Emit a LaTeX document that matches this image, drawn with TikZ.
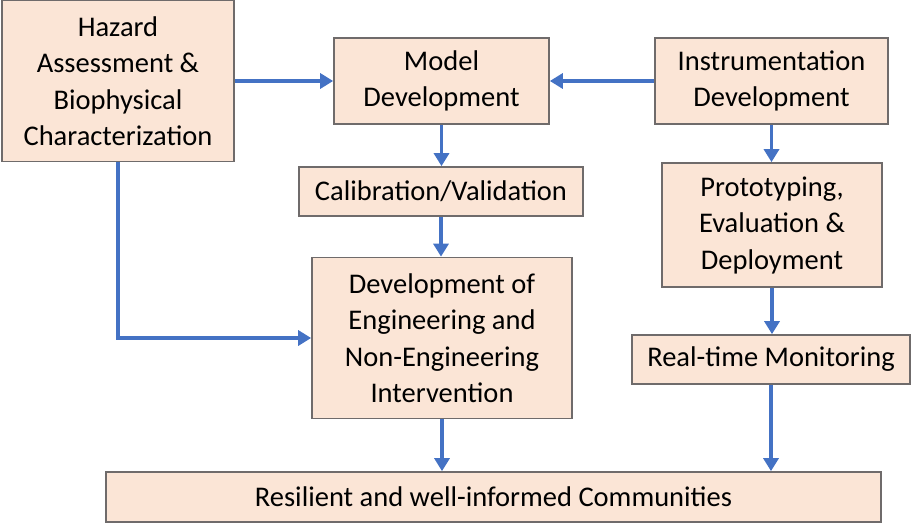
\documentclass[tikz,border=0pt]{standalone}
\usepackage{fontspec}
\setmainfont{Carlito}
\usetikzlibrary{arrows.meta}
\definecolor{boxfill}{HTML}{FBE5D6}
\definecolor{boxline}{HTML}{6F6B6B}
\definecolor{arrowblue}{HTML}{4472C4}
\tikzset{
  pbox/.style={draw=boxline, line width=1.7pt, fill=boxfill, inner sep=0pt,
    align=center, font=\fontsize{28.5}{36.5}\selectfont, text=black},
  flow/.style={draw=arrowblue, line width=3.6pt,
    -{Triangle[length=13pt,width=15pt]}}
}
\begin{document}
\begin{tikzpicture}[x=1pt,y=-1pt]
\useasboundingbox (0,0) rectangle (912,524);
\node[pbox, minimum width=232pt, minimum height=161pt] (haz) at (118,81)
  {Hazard\\Assessment \&\\Biophysical\\Characterization};
\node[pbox, minimum width=215pt, minimum height=86pt] (model) at (441.5,81)
  {Model\\Development};
\node[pbox, minimum width=233pt, minimum height=86pt] (instr) at (771.5,81)
  {Instrumentation\\Development};
\node[pbox, minimum width=284pt, minimum height=49pt] (calib) at (441,191.5)
  {Calibration/Validation};
\node[pbox, minimum width=220pt, minimum height=124pt] (proto) at (772,225)
  {Prototyping,\\Evaluation \&\\Deployment};
\node[pbox, minimum width=260pt, minimum height=161pt] (dev) at (442,338)
  {Development of\\Engineering and\\Non-Engineering\\Intervention};
\node[pbox, minimum width=278pt, minimum height=49pt] (rtm) at (771,359.5)
  {Real-time Monitoring};
\node[pbox, minimum width=775pt, minimum height=50pt] (res) at (493.5,497)
  {Resilient and well-informed Communities};

\draw[flow] (haz.east) -- (model.west);
\draw[flow] (instr.west) -- (model.east);
\draw[flow] (model.south) -- (model.south |- calib.north);
\draw[flow] (calib.south) -- (calib.south |- dev.north);
\draw[flow] (instr.south) -- (instr.south |- proto.north);
\draw[flow] (proto.south) -- (proto.south |- rtm.north);
\draw[flow] (rtm.south) -- (rtm.south |- res.north);
\draw[flow] (dev.south) -- (dev.south |- res.north);
\draw[flow] (haz.south) -- (haz.south |- dev.west) -- (dev.west);
\end{tikzpicture}
\end{document}
